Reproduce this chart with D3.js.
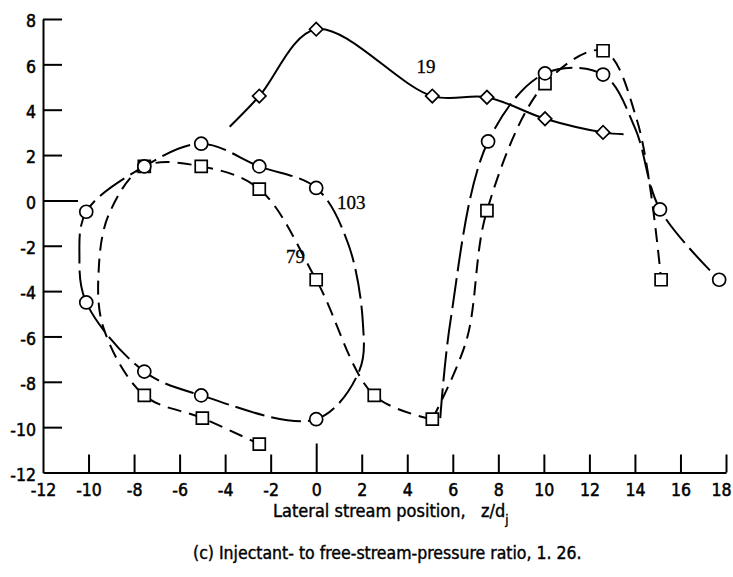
<!DOCTYPE html>
<html>
<head>
<meta charset="utf-8">
<script src="https://cdn.jsdelivr.net/npm/d3@7"></script>
<style>
  body { margin: 0; background: #fff; }
  svg { display: block; }
</style>
</head>
<body>
<div id="chart"></div>
<script>
// tick values
const xTicks = [-12, -10, -8, -6, -4, -2, 0, 2, 4, 6, 8, 10, 12, 14, 16, 18];
const yTicks = [-12, -10, -8, -6, -4, -2, 0, 2, 4, 6, 8];

// measured points (x = z/dj, y = value)
const diamonds19 = [[-2.5, 4.6], [0, 7.55], [5.1, 4.6], [7.5, 4.55], [10.05, 3.6], [12.6, 3.0]];
const circles103 = [[0, 0.55], [-2.5, 1.5], [-5.05, 2.5], [-7.55, 1.5], [-10.1, -0.5], [-10.1, -4.5],
  [-7.55, -7.55], [-5.05, -8.6], [0, -9.65], [7.55, 2.6], [10.05, 5.6], [12.6, 5.55], [15.1, -0.4], [17.7, -3.5]];
const squares79 = [[-7.55, 1.5], [-5.05, 1.5], [-2.5, 0.5], [0, -3.5], [2.55, -8.6], [5.1, -9.65],
  [-7.55, -8.6], [-5.0, -9.6], [-2.5, -10.75], [7.5, -0.45], [10.05, 5.15], [12.6, 6.6], [15.15, -3.5]];

// faired curves
const curve19 = [[-3.8, 3.25], [-2.5, 4.6], [0, 7.55], [5.1, 4.6], [7.5, 4.55], [10.05, 3.6], [12.6, 3.0], [13.5, 2.92]];
const curve103Loop = [[0, 0.55], [-2.5, 1.5], [-5.05, 2.5], [-7.55, 1.5], [-10.1, -0.5], [-10.4, -2.5], [-10.1, -4.5],
  [-7.55, -7.55], [-5.05, -8.6], [0, -9.65], [1.9, -7.5], [2.05, -5.4], [1.4, -1.9]];
const curve103Right = [[5.45, -9.6], [5.9, -5.3], [7.55, 2.6], [10.05, 5.6], [12.6, 5.55], [14.0, 3.2], [15.1, -0.4], [17.7, -3.5]];
const curve79Loop = [[5.1, -9.65], [2.55, -8.6], [0, -3.5], [-2.5, 0.5], [-5.05, 1.5], [-7.55, 1.5], [-9.1, -0.6],
  [-9.55, -3.0], [-9.35, -5.6], [-7.55, -8.6], [-5.0, -9.6], [-2.5, -10.75]];
const curve79Right = [[5.1, -9.65], [6.6, -6.17], [7.5, -0.45], [10.05, 5.15], [12.6, 6.6], [14.1, 3.5], [15.15, -3.5]];

const curveLabels = [
  { text: "19", x: 4.41, y: 5.62 },
  { text: "103", x: 0.91, y: -0.39 },
  { text: "79", x: -1.33, y: -2.76 }
];

const width = 733;
const height = 577;

const x = d3.scaleLinear().domain([-12, 18]).range([43, 726]);
const y = d3.scaleLinear().domain([-12, 8]).range([472.5, 19]);

const svg = d3.select("#chart")
  .append("svg")
  .attr("width", width)
  .attr("height", height)
  .style("background", "#fff");

const tickFont = "'DejaVu Sans Condensed', 'Liberation Sans Narrow', sans-serif";

// x axis (ticks point up into the plot)
const xAxisG = svg.append("g")
  .attr("transform", `translate(0,${y(-12)})`)
  .call(d3.axisBottom(x).tickValues(xTicks).tickSizeInner(-18).tickSizeOuter(0)
    .tickPadding(11).tickFormat(d => String(d)));

// y axis (ticks point right)
const yAxisG = svg.append("g")
  .attr("transform", `translate(${x(-12)},0)`)
  .call(d3.axisLeft(y).tickValues(yTicks).tickSizeInner(-19).tickSizeOuter(0)
    .tickPadding(7).tickFormat(d => String(d)));

[xAxisG, yAxisG].forEach(g => {
  g.select(".domain").attr("stroke", "#000").attr("stroke-width", 2);
  g.selectAll(".tick line").attr("stroke", "#000").attr("stroke-width", 2);
  g.selectAll(".tick text")
    .attr("fill", "#000")
    .attr("stroke", "#000")
    .attr("stroke-width", 0.5)
    .style("font-family", tickFont)
    .style("font-size", "17.5px");
});
yAxisG.selectAll(".tick text").attr("dy", "0.45em");
// last label sits a little left of its tick, inside the page
xAxisG.selectAll(".tick").filter(d => d === 18).select("text").attr("dx", -5);

// longer zero ticks
xAxisG.selectAll(".tick").filter(d => d === 0).select("line").attr("y2", -29);
yAxisG.selectAll(".tick").filter(d => d === 0).select("line").attr("x2", 35);
xAxisG.selectAll(".tick").filter(d => d === -12).select("line").remove();
yAxisG.selectAll(".tick").filter(d => d === -12).select("line").remove();

// curves
const openLine = d3.line().x(d => x(d[0])).y(d => y(d[1])).curve(d3.curveCatmullRom.alpha(0.5));
const closedLine = d3.line().x(d => x(d[0])).y(d => y(d[1])).curve(d3.curveCatmullRomClosed.alpha(0.5));

const curves = svg.append("g").attr("fill", "none").attr("stroke", "#000").attr("stroke-width", 2);

curves.append("path").attr("d", openLine(curve19));
curves.append("path").attr("d", closedLine(curve103Loop)).attr("stroke-dasharray", "30,7");
curves.append("path").attr("d", openLine(curve103Right)).attr("stroke-dasharray", "30,7");
curves.append("path").attr("d", openLine(curve79Loop)).attr("stroke-dasharray", "14,8");
curves.append("path").attr("d", openLine(curve79Right)).attr("stroke-dasharray", "14,8");

// markers
const marks = svg.append("g").attr("fill", "#fff").attr("stroke", "#000").attr("stroke-width", 1.7);

marks.selectAll(".sq")
  .data(squares79)
  .enter()
  .append("path")
  .attr("class", "sq")
  .attr("d", d3.symbol(d3.symbolSquare, 144))
  .attr("transform", d => `translate(${x(d[0])},${y(d[1])})`);

marks.selectAll(".ci")
  .data(circles103)
  .enter()
  .append("circle")
  .attr("class", "ci")
  .attr("cx", d => x(d[0]))
  .attr("cy", d => y(d[1]))
  .attr("r", 6.5);

marks.selectAll(".di")
  .data(diamonds19)
  .enter()
  .append("path")
  .attr("class", "di")
  .attr("d", d3.symbol(d3.symbolSquare, 90))
  .attr("transform", d => `translate(${x(d[0])},${y(d[1])}) rotate(45)`);

// curve labels
svg.append("g").selectAll("text")
  .data(curveLabels)
  .enter()
  .append("text")
  .attr("x", d => x(d.x))
  .attr("y", d => y(d.y))
  .attr("stroke", "#000")
  .attr("stroke-width", 0.3)
  .style("font-family", "'Liberation Serif', serif")
  .style("font-size", "19px")
  .text(d => d.text);

// axis title
const title = svg.append("text")
  .attr("x", 273)
  .attr("y", 517)
  .attr("stroke", "#000")
  .attr("stroke-width", 0.4)
  .style("white-space", "pre")
  .style("font-family", tickFont)
  .style("font-size", "18px");
title.append("tspan").text("Lateral stream position,   z/d");
title.append("tspan").attr("dy", 7).style("font-size", "13px").text("j");

// caption
svg.append("text")
  .attr("x", 193)
  .attr("y", 559)
  .attr("stroke", "#000")
  .attr("stroke-width", 0.4)
  .style("font-family", tickFont)
  .style("font-size", "17.5px")
  .text("(c) Injectant- to free-stream-pressure ratio, 1. 26.");
</script>
</body>
</html>
